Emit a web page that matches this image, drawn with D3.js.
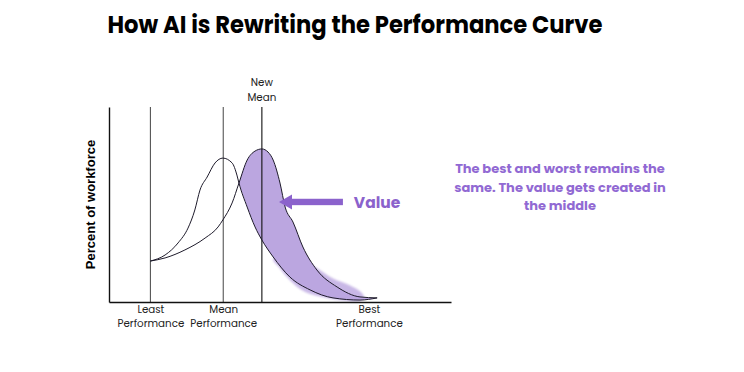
<!DOCTYPE html>
<html lang="en">
<head>
    <meta charset="UTF-8">
    <title>How AI is Rewriting the Performance Curve</title>
    <script src="https://d3js.org/d3.v7.min.js"></script>
    <style>
        body { margin: 0; background: #fff; }
        svg text { font-family: "Poppins", "Lato", "Open Sans", sans-serif; }
        .title { font-weight: 700; fill: #000; font-size: 25px; }
        .small { font-size: 10.3px; fill: #222; }
        .note { font-weight: 700; fill: #9169d3; font-size: 13px; }
    </style>
</head>
<body>
<div id="chart"></div>
<script>
// Performance markers on the x axis (0-100 scale)
const markers = [
    { name: "Least", value: 12.1, label: ["Least", "Performance"], line: true },
    { name: "Mean", value: 33.4, label: ["Mean", "Performance"], line: true },
    { name: "Best", value: 76, label: ["Best", "Performance"], line: false }
];
const newMean = 44.7;

// old distribution (performance, percent of workforce)
const oldCurve = [
    [12.1, 21.0], [16.4, 24.1], [20.2, 30.3], [23.1, 37.9], [25.1, 47.2],
    [26.6, 57.4], [28.7, 64.1], [31.0, 71.3], [33.3, 73.8], [36.0, 71.3],
    [37.4, 65.1], [38.0, 61.0], [40.4, 48.7], [42.7, 38.5], [44.7, 31.8],
    [48.0, 23.1], [52.9, 12.8], [58.8, 6.2], [65.5, 2.1], [73.4, 1.0], [78.4, 2.1]
];

// new distribution after AI
const newCurve = [
    [12.1, 21.0], [16.4, 22.6], [22.2, 26.7], [28.1, 32.8], [31.9, 38.5],
    [33.3, 42.1], [36.0, 50.8], [38.0, 61.0], [40.4, 72.8], [42.7, 77.4],
    [44.7, 78.5], [46.5, 76.9], [48.0, 72.8], [50.0, 61.0], [51.5, 48.7],
    [53.8, 41.0], [56.7, 28.2], [60.8, 16.4], [66.7, 7.7], [73.4, 2.6], [78.4, 2.1]
];
const crossAt = 38.0; // where the two curves meet

// soft spill of the value band near the tail
const halo = [
    [60.2, 18.0], [65.5, 12.0], [70.5, 8.5], [73.4, 5.5], [74.6, 2.4],
    [73.4, 0.4], [67.5, 1.0], [61.7, 2.8], [56.7, 5.8], [52.9, 11.2],
    [50.0, 17.2], [48.0, 22.0], [52.9, 24.0]
];

const titleText = "How AI is Rewriting the Performance Curve";
const yLabel = "Percent of workforce";
const noteLines = ["The best and worst remains the", "same. The value gets created in", "the middle"];

const W = 744, H = 372;
const svg = d3.select("#chart").append("svg")
    .attr("width", W).attr("height", H);

const x = d3.scaleLinear().domain([0, 100]).range([109, 451]);
const y = d3.scaleLinear().domain([0, 100]).range([302, 107]);

// title
svg.append("text")
    .attr("class", "title")
    .attr("x", 355).attr("y", 33)
    .attr("text-anchor", "middle")
    .attr("textLength", 495)
    .attr("lengthAdjust", "spacingAndGlyphs")
    .text(titleText);

svg.append("defs").append("filter").attr("id", "soft")
    .append("feGaussianBlur").attr("stdDeviation", 1.1);

const line = d3.line().x(d => x(d[0])).y(d => y(d[1])).curve(d3.curveMonotoneX);

svg.append("path")
    .attr("d", d3.line().x(d => x(d[0])).y(d => y(d[1])).curve(d3.curveCatmullRomClosed)(halo))
    .attr("fill", "#bba6e0")
    .attr("opacity", 0.8)
    .attr("filter", "url(#soft)");

// value band between the curves
const upper = newCurve.filter(d => d[0] >= crossAt);
const lower = oldCurve.filter(d => d[0] >= crossAt).reverse();
svg.append("path")
    .attr("d", line(upper) + line(lower).replace(/^M/, "L") + "Z")
    .attr("fill", "#bba6e0");

// marker lines
svg.selectAll(".marker")
    .data(markers.filter(d => d.line))
    .enter().append("line")
    .attr("x1", d => x(d.value)).attr("x2", d => x(d.value))
    .attr("y1", y(100)).attr("y2", y(0))
    .attr("stroke", "#444").attr("stroke-width", 1);

svg.append("line")
    .attr("x1", x(newMean)).attr("x2", x(newMean))
    .attr("y1", y(100)).attr("y2", y(0))
    .attr("stroke", "#111").attr("stroke-width", 1.1);

svg.append("text")
    .attr("class", "small")
    .attr("text-anchor", "middle")
    .selectAll("tspan").data(["New", "Mean"]).enter().append("tspan")
    .attr("x", x(newMean)).attr("y", (d, i) => 86 + i * 14.5)
    .text(d => d);

// curves
svg.append("path").attr("d", line(oldCurve))
    .attr("fill", "none").attr("stroke", "#1e1b2b").attr("stroke-width", 1);
svg.append("path").attr("d", line(newCurve))
    .attr("fill", "none").attr("stroke", "#1e1b2b").attr("stroke-width", 1);

// axes
const xAxis = svg.append("g")
    .attr("transform", `translate(0,${y(0)})`)
    .call(d3.axisBottom(x).tickValues(markers.map(d => d.value)).tickSize(0).tickSizeOuter(0));
xAxis.select(".domain").attr("stroke", "#111").attr("stroke-width", 1.4);
xAxis.selectAll(".tick text").each(function(v, i) {
    const t = d3.select(this).text(null)
        .attr("class", "small")
        .attr("y", 11).attr("dy", 0);
    markers[i].label.forEach((s, j) => {
        t.append("tspan").attr("x", 0).attr("dy", j ? 14 : 0).text(s);
    });
});
xAxis.attr("font-family", null).attr("font-size", null);

const yAxis = svg.append("g")
    .attr("transform", `translate(${x(0)},0)`)
    .call(d3.axisLeft(y).ticks(0).tickSize(0).tickSizeOuter(0));
yAxis.select(".domain").attr("stroke", "#111").attr("stroke-width", 1.4);

svg.append("text")
    .attr("transform", `translate(95,${(y(0) + y(100)) / 2}) rotate(-90)`)
    .attr("text-anchor", "middle")
    .style("font-family", "Liberation Sans, Arial, sans-serif")
    .style("font-weight", 700).style("font-size", "13px")
    .attr("fill", "#000")
    .text(yLabel);

// arrow pointing at the band
const purple = "#8b62cc";
const ay = y(51.3), tipX = x(49.7), tailX = x(68.4);
svg.append("rect")
    .attr("x", tipX + 10).attr("y", ay - 3.2)
    .attr("width", tailX - tipX - 10).attr("height", 6.4)
    .attr("fill", purple);
svg.append("path")
    .attr("d", `M${tipX},${ay} L${tipX + 13},${ay - 7.5} L${tipX + 13},${ay + 7.5} Z`)
    .attr("fill", purple);
svg.append("text")
    .attr("x", x(71.6)).attr("y", ay + 6)
    .style("font-weight", 700).style("font-size", "15.5px")
    .attr("fill", purple)
    .text("Value");

// side note
svg.append("text")
    .attr("class", "note")
    .attr("text-anchor", "middle")
    .selectAll("tspan").data(noteLines).enter().append("tspan")
    .attr("x", 560).attr("y", (d, i) => 173 + i * 18.5)
    .text(d => d);
</script>
</body>
</html>
